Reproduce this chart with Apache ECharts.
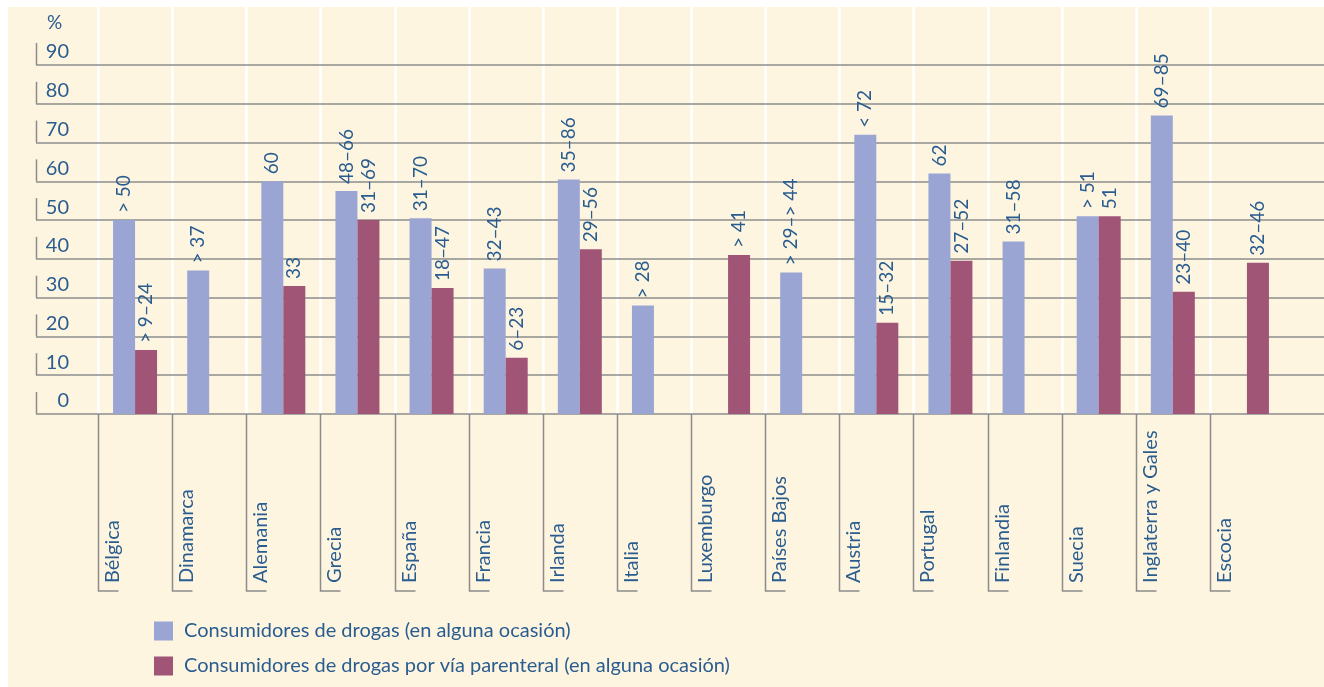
<!DOCTYPE html>
<html>
<head>
<meta charset="utf-8">
<script src="https://cdn.jsdelivr.net/npm/echarts@6/dist/echarts.min.js"></script>
<style>
  html, body { margin: 0; padding: 0; background: #ffffff; }
  #wrap { position: relative; width: 1324px; height: 687px; overflow: hidden; }
  #paper { position: absolute; left: 8px; top: 7px; right: 0; bottom: 0; background: #fef5e1; }
  #chart { position: absolute; left: 0; top: 0; width: 1324px; height: 687px; }
</style>
</head>
<body>
<div id="wrap"><div id="paper"></div><div id="chart"></div></div>
<script>
// Countries along the horizontal axis
const countries = ['Bélgica', 'Dinamarca', 'Alemania', 'Grecia', 'España', 'Francia', 'Irlanda', 'Italia',
  'Luxemburgo', 'Países Bajos', 'Austria', 'Portugal', 'Finlandia', 'Suecia', 'Inglaterra y Gales', 'Escocia'];

// Drug users (ever), % — bar height and the printed estimate
const everUsers = [50, 37, 60, 57.5, 50.5, 37.5, 60.5, 28, null, 36.5, 72, 62, 44.5, 51, 77, null];
const everUsersText = ['> 50', '> 37', '60', '48–66', '31–70', '32–43', '35–86', '> 28', '', '> 29–> 44',
  '< 72', '62', '31–58', '> 51', '69–85', ''];

// Injecting drug users (ever), % — bar height and the printed estimate
const injectors = [16.5, null, 33, 50, 32.5, 14.5, 42.5, null, 41, null, 23.5, 39.5, null, 51, 31.5, 39];
const injectorsText = ['> 9–24', '', '33', '31–69', '18–47', '6–23', '29–56', '', '> 41', '',
  '15–32', '27–52', '', '51', '23–40', '32–46'];

// Value axis ticks
const yTicks = [0, 10, 20, 30, 40, 50, 60, 70, 80, 90];

const seriesNames = ['Consumidores de drogas (en alguna ocasión)',
  'Consumidores de drogas por vía parenteral (en alguna ocasión)'];

const TEXT = '#2a5d8f';
const GRID_LINE = '#8c8c8c';
const FONT = 'Lato';
const BLUE = '#9ba5d4';
const PURPLE = '#a05577';

const chart = echarts.init(document.getElementById('chart'), null, { renderer: 'canvas' });

function barLabel(texts) {
  return {
    show: true,
    position: 'top',
    rotate: 90,
    align: 'left',
    verticalAlign: 'middle',
    distance: 7,
    color: TEXT,
    fontFamily: FONT,
    fontSize: 19,
    formatter: p => texts[p.dataIndex]
  };
}

chart.setOption({
  backgroundColor: 'transparent',
  animation: false,
  legend: {
    orient: 'vertical',
    left: 154,
    top: 621,
    itemWidth: 19,
    itemHeight: 19,
    itemGap: 15,
    padding: 0,
    icon: 'rect',
    data: seriesNames,
    textStyle: { color: TEXT, fontFamily: FONT, fontSize: 20, padding: [0, 0, 0, 6] }
  },
  grid: [
    // full-width frame carrying the horizontal rules
    { left: 36, right: 0, top: 65, bottom: 273 },
    // country columns
    { left: 98, right: 40, top: 65, bottom: 273 }
  ],
  xAxis: [
    { gridIndex: 0, type: 'value', min: 0, max: 1, show: false },
    {
      gridIndex: 1, type: 'category', data: countries,
      axisLine: { show: false }, axisTick: { show: false }, axisLabel: { show: false },
      splitLine: { show: false }
    }
  ],
  yAxis: [
    {
      gridIndex: 0, type: 'value', min: 0, max: 90, interval: 10,
      name: '%', nameLocation: 'end', nameGap: 33,
      nameTextStyle: { color: TEXT, fontFamily: FONT, fontSize: 19, align: 'left', padding: [0, 0, 0, 11] },
      axisLine: { show: false }, axisTick: { show: false },
      axisLabel: {
        inside: true, margin: 33, align: 'right', color: TEXT, fontFamily: FONT, fontSize: 20,
        verticalAlign: 'bottom', padding: [0, 0, 3, 0]
      },
      splitLine: { show: true, lineStyle: { color: GRID_LINE, width: 1.5 } }
    },
    { gridIndex: 1, type: 'value', min: 0, max: 90, interval: 10, show: false }
  ],
  series: [
    {
      // short upright strokes beside each value label
      type: 'custom',
      xAxisIndex: 0, yAxisIndex: 0,
      z: 1,
      silent: true,
      data: yTicks.map(v => [0, v]),
      renderItem: (params, api) => {
        const p = api.coord([0, api.value(1)]);
        const x = Math.round(p[0]) + 0.5;
        return {
          type: 'line',
          shape: { x1: x, y1: p[1], x2: x, y2: p[1] - 22 },
          style: { stroke: GRID_LINE, lineWidth: 1.5 }
        };
      }
    },
    {
      // column separators (white inside the plot, grey below it) and country names
      type: 'custom',
      xAxisIndex: 1, yAxisIndex: 1,
      z: -1,
      silent: true,
      clip: false,
      data: countries.map((c, i) => [i, 0]),
      renderItem: (params, api) => {
        const i = api.value(0);
        const base = api.coord([i, 0]);
        const band = api.size([1, 0])[0];
        const x = Math.round(base[0] - band / 2) + 0.5;
        const top = params.coordSys.y - 58;
        const foot = base[1] + 177;
        return {
          type: 'group',
          children: [
            { type: 'line', shape: { x1: x, y1: top, x2: x, y2: base[1] }, style: { stroke: '#ffffff', lineWidth: 2.5 } },
            {
              type: 'polyline',
              shape: { points: [[x, base[1]], [x, foot], [x + 20, foot]] },
              style: { stroke: GRID_LINE, lineWidth: 1.5, fill: null }
            },
            {
              type: 'text', x: x + 4, y: foot - 8, rotation: Math.PI / 2,
              style: { text: countries[i], fill: TEXT, fontFamily: FONT, fontSize: 20, align: 'left', verticalAlign: 'top' }
            }
          ]
        };
      }
    },
    {
      name: seriesNames[0],
      type: 'bar',
      xAxisIndex: 1, yAxisIndex: 1,
      data: everUsers,
      barWidth: 22,
      barGap: '0%',
      itemStyle: { color: BLUE },
      label: barLabel(everUsersText)
    },
    {
      name: seriesNames[1],
      type: 'bar',
      xAxisIndex: 1, yAxisIndex: 1,
      data: injectors,
      barWidth: 22,
      barGap: '0%',
      itemStyle: { color: PURPLE },
      label: barLabel(injectorsText)
    }
  ]
});
</script>
</body>
</html>
